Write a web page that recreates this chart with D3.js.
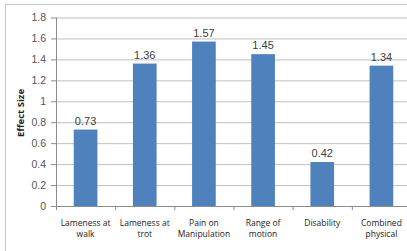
<!DOCTYPE html>
<html>
<head>
<meta charset="utf-8">
<script src="https://cdn.jsdelivr.net/npm/d3@7"></script>
<style>
  html, body { margin: 0; padding: 0; background: #fff; }
  svg { display: block; }
</style>
</head>
<body>
<div id="chart"></div>
<script>
let categories = [["Lameness at", "walk"], ["Lameness at", "trot"], ["Pain on", "Manipulation"],
                  ["Range of", "motion"], ["Disability", ""], ["Combined", "physical"]];
let values = [0.73, 1.36, 1.57, 1.45, 0.42, 1.34];
let yTicks = [0, 0.2, 0.4, 0.6, 0.8, 1, 1.2, 1.4, 1.6, 1.8];

let width = 407;
let height = 251;
let margin = ({
    top: 17.5,
    bottom: 45,
    left: 56,
    right: -4
});

let data = categories.map((c, i) => ({ name: c, key: i, value: values[i] }));

let xScale = d3
    .scaleBand()
    .domain(data.map(d => d.key))
    .range([margin.left, width - margin.right])
    .paddingInner(0.6)
    .paddingOuter(0.3);

let yScale = d3
    .scaleLinear()
    .domain([0, 1.8])
    .range([height - margin.bottom, margin.top]);

let svg = d3.select("#chart")
    .append("svg")
    .attr("width", width)
    .attr("height", height);

// outer frame
svg.append("path")
    .attr("d", `M5.5,${height}V4.5H${width}`)
    .attr("fill", "none")
    .attr("stroke", "#c8c8c8");

// gridlines + y axis
let yAxis = g =>
    g
        .attr("transform", `translate(${margin.left},0)`)
        .call(d3.axisLeft(yScale).tickValues(yTicks).tickSize(5).tickPadding(5)
            .tickFormat(d => d3.format("~g")(d)))
        .call(g => g.select(".domain").remove())
        .call(g => g.selectAll(".tick line").attr("stroke", "#8c8c8c"))
        .call(g => g.selectAll(".tick")
            .append("line")
            .attr("x2", width)
            .attr("stroke", "#c0c0c0"))
        .call(g => g.selectAll(".tick text")
            .attr("font-family", "Liberation Sans, sans-serif")
            .attr("font-size", 10.5)
            .attr("fill", "#555"));
svg.append("g").call(yAxis);

svg.append("line")
    .attr("x1", margin.left + 0.5).attr("x2", margin.left + 0.5)
    .attr("y1", margin.top).attr("y2", yScale(0) + 4)
    .attr("stroke", "#8c8c8c");

// bars
svg.append("g")
    .attr("fill", "#4f81bd")
    .selectAll("rect")
    .data(data)
    .join("rect")
    .attr("x", d => xScale(d.key))
    .attr("y", d => yScale(d.value))
    .attr("width", xScale.bandwidth())
    .attr("height", d => yScale(0) - yScale(d.value));

// value labels
svg.append("g")
    .attr("font-family", "Liberation Sans, sans-serif")
    .attr("font-size", 11)
    .attr("fill", "#404040")
    .attr("text-anchor", "middle")
    .selectAll("text")
    .data(data)
    .join("text")
    .attr("x", d => xScale(d.key) + xScale.bandwidth() / 2)
    .attr("y", d => yScale(d.value) - 5)
    .text(d => d.value.toFixed(2));

// x axis line and boundary ticks
let step = xScale.step();
let x0 = margin.left;
svg.append("line")
    .attr("x1", x0).attr("x2", width)
    .attr("y1", yScale(0) + 0.5).attr("y2", yScale(0) + 0.5)
    .attr("stroke", "#8c8c8c");
svg.append("g")
    .selectAll("line")
    .data(data.slice(1))
    .join("line")
    .attr("x1", d => xScale(d.key) - step * 0.3 + 0.5)
    .attr("x2", d => xScale(d.key) - step * 0.3 + 0.5)
    .attr("y1", yScale(0))
    .attr("y2", yScale(0) + 4)
    .attr("stroke", "#8c8c8c");

// category labels
let cat = svg.append("g")
    .attr("font-family", "Open Sans, sans-serif")
    .attr("font-size", 8.5)
    .attr("fill", "#222")
    .attr("text-anchor", "middle")
    .selectAll("text")
    .data(data)
    .join("text")
    .attr("x", d => xScale(d.key) + xScale.bandwidth() / 2)
    .attr("y", yScale(0) + 19.5);
cat.append("tspan")
    .attr("x", d => xScale(d.key) + xScale.bandwidth() / 2)
    .text(d => d.name[0]);
cat.append("tspan")
    .attr("x", d => xScale(d.key) + xScale.bandwidth() / 2)
    .attr("dy", 11.5)
    .text(d => d.name[1]);

// y title
svg.append("text")
    .attr("transform", `translate(24,113) rotate(-90)`)
    .attr("text-anchor", "middle")
    .attr("font-family", "Open Sans, sans-serif")
    .attr("font-weight", "bold")
    .attr("font-size", 9.5)
    .attr("fill", "#222")
    .text("Effect Size");
</script>
</body>
</html>
